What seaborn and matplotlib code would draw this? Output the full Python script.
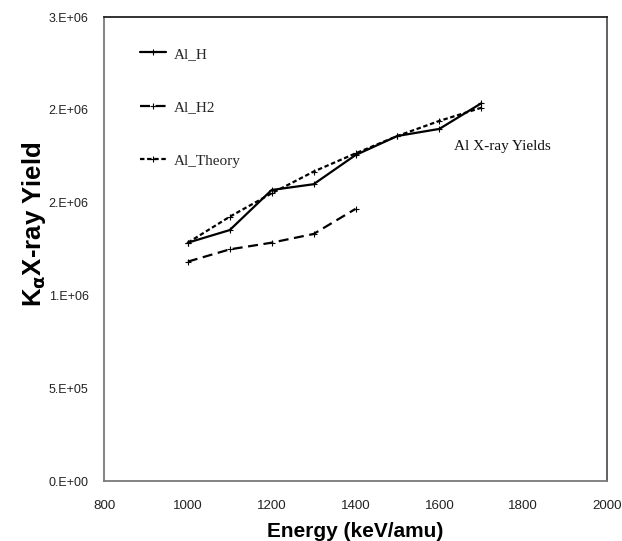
import matplotlib
matplotlib.use("Agg")
import matplotlib.pyplot as plt
import seaborn as sns
import pandas as pd
import numpy as np
from matplotlib.ticker import FixedLocator, MultipleLocator, FixedFormatter

# ---- data ----
energy = [1000, 1100, 1200, 1300, 1400, 1500, 1600, 1700]
al_h = [1.284e6, 1.352e6, 1.568e6, 1.599e6, 1.756e6, 1.859e6, 1.897e6, 2.035e6]
energy_h2 = [1000, 1100, 1200, 1300, 1400]
al_h2 = [1.182e6, 1.248e6, 1.284e6, 1.331e6, 1.466e6]
al_theory = [1.284e6, 1.424e6, 1.550e6, 1.667e6, 1.765e6, 1.859e6, 1.940e6, 2.011e6]

series_names = ["Al_H", "Al_H2", "Al_Theory"]
x_ticks = [800, 1000, 1200, 1400, 1600, 1800, 2000]
y_ticks = [0, 5e5, 1e6, 1.5e6, 2e6, 2.5e6]
y_tick_labels = ["0.E+00", "5.E+05", "1.E+06", "2.E+06", "2.E+06", "3.E+06"]

sns.set_style("white")
plt.rcParams["font.family"] = ["Liberation Sans", "DejaVu Sans"]

fig = plt.figure(figsize=(6.22, 5.41), dpi=100)
ax = fig.add_axes([104/622, 60/541, (607-104)/622, (481-17)/541])

df_h = pd.DataFrame({"x": energy, "y": al_h})
df_h2 = pd.DataFrame({"x": energy_h2, "y": al_h2})
df_t = pd.DataFrame({"x": energy, "y": al_theory})

mk = dict(marker="+", markersize=4.5, markeredgewidth=0.8,
          markeredgecolor="black", markerfacecolor="black")
sns.lineplot(data=df_h, x="x", y="y", ax=ax, color="black", lw=1.6,
             label=series_names[0], **mk)
sns.lineplot(data=df_h2, x="x", y="y", ax=ax, color="black", lw=1.6,
             label=series_names[1], **mk)
sns.lineplot(data=df_t, x="x", y="y", ax=ax, color="black", lw=1.6,
             label=series_names[2], **mk)
lines = ax.get_lines()
lines[1].set_dashes((4.5, 2.5))
lines[2].set_dashes((2.0, 1.2))

ax.set_xlim(800, 2000)
ax.set_ylim(0, 2.5e6)
ax.xaxis.set_major_locator(FixedLocator(x_ticks))
ax.xaxis.set_minor_locator(MultipleLocator(20))
ax.yaxis.set_major_locator(FixedLocator(y_ticks))
ax.yaxis.set_major_formatter(FixedFormatter(y_tick_labels))
ax.yaxis.set_minor_locator(MultipleLocator(1e5))
ax.tick_params(axis="both", which="both", colors="#808080", labelcolor="#222222")
ax.tick_params(axis="both", which="major", direction="out", length=4, width=0.8)
ax.tick_params(axis="both", which="minor", direction="in", length=3, width=0.6)
ax.tick_params(axis="y", which="major", pad=7, labelsize=9)
ax.tick_params(axis="x", which="major", pad=10, labelsize=9.6)
ax.tick_params(top=False, right=False)

for s in ["left", "bottom"]:
    ax.spines[s].set_color("#7a7a7a")
    ax.spines[s].set_linewidth(1.3)
for s in ["top", "right"]:
    ax.spines[s].set_visible(True)
    ax.spines[s].set_linewidth(1.3)
ax.spines["top"].set_color("#222222")
ax.spines["right"].set_color("#555555")

ax.set_xlabel("")
ax.set_ylabel("")
fig.text(355.5/622, 4/541, "Energy (keV/amu)", fontsize=15, fontweight="bold",
         color="black", ha="center", va="baseline")
fig.text(34/622, 1 - 224/541, r"K$_{\mathbf{\alpha}}$X-ray Yield", fontsize=18.5,
         fontweight="bold", color="black", ha="center", va="center", rotation=90)

leg = ax.legend(loc="upper left", bbox_to_anchor=(0.045, 0.965), frameon=False,
                prop={"family": "Liberation Serif", "size": 11},
                labelspacing=2.6, handlelength=1.7, handletextpad=0.5)

ax.text(0.696, 0.72, "Al X-ray Yields", transform=ax.transAxes,
        fontsize=11, family="Liberation Serif", va="center", ha="left", color="#111111")

fig.savefig("out.png", dpi=100)
